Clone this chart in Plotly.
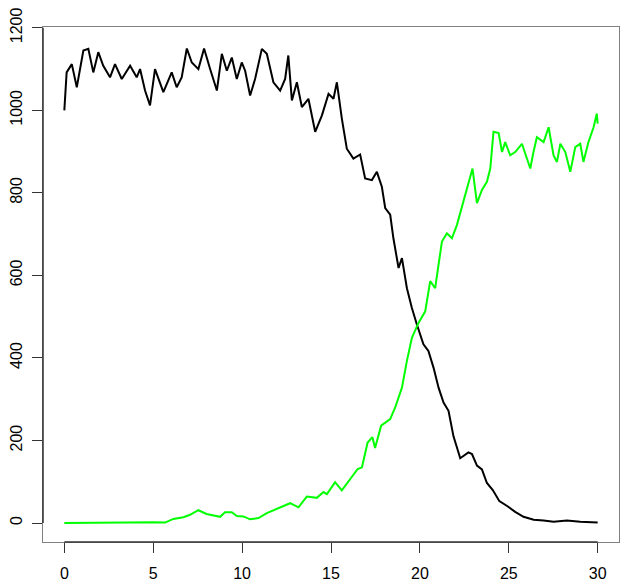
import plotly.graph_objects as go

# values
black_t = [0, 0.13, 0.42, 0.7, 1.07, 1.35, 1.63, 1.91, 2.19, 2.57, 2.85, 3.23, 3.7, 4.07, 4.26,
           4.54, 4.82, 5.1, 5.57, 6.04, 6.32, 6.6, 6.89, 7.17, 7.54, 7.86, 8.2, 8.58, 8.86, 9.14,
           9.42, 9.7, 9.98, 10.17, 10.45, 10.73, 11.11, 11.39, 11.76, 12.14, 12.42, 12.6, 12.8,
           13.08, 13.36, 13.73, 14.11, 14.49, 14.86, 15.14, 15.33, 15.61, 15.89, 16.26, 16.64,
           16.92, 17.3, 17.58, 17.86, 18.05, 18.33, 18.51, 18.8, 18.99, 19.27, 19.55, 19.83,
           20.2, 20.48, 20.77, 21.05, 21.33, 21.61, 21.89, 22.27, 22.73, 22.93, 23.21, 23.49,
           23.77, 24.1, 24.47, 24.95, 25.36, 25.83, 26.4, 26.96, 27.52, 28.27, 29.02, 30]
black_v = [1000, 1092, 1112, 1056, 1145, 1149, 1092, 1141, 1108, 1080, 1112, 1076, 1108, 1080, 1100,
           1048, 1012, 1100, 1044, 1092, 1056, 1080, 1150, 1116, 1100, 1150, 1100, 1048, 1137, 1096,
           1128, 1076, 1116, 1096, 1036, 1076, 1149, 1137, 1068, 1048, 1076, 1133, 1024,
           1068, 1008, 1028, 948, 988, 1040, 1028, 1068, 980, 907, 883, 893,
           835, 831, 851, 815, 763, 747, 690, 618, 642, 569, 521, 481,
           433, 417, 376, 328, 292, 272, 210, 157, 171, 167, 139, 130,
           97, 80, 53, 40, 27, 15, 8, 6, 3, 6, 3, 1]

green_t = [0, 3.4, 3.5, 5.0, 5.67, 6.13, 6.7, 7.07, 7.54, 8.0, 8.76, 9.04, 9.42, 9.7, 10.07,
           10.45, 10.92, 11.39, 11.86, 12.33, 12.7, 13.17, 13.64, 14.2, 14.58, 14.77, 15.23,
           15.61, 16.08, 16.5, 16.74, 17.06, 17.33, 17.48, 17.82, 18.33, 18.61, 18.99, 19.27,
           19.55, 19.92, 20.3, 20.58, 20.86, 21.05, 21.24, 21.52, 21.8, 22.08, 22.45, 22.73,
           22.96, 23.21, 23.49, 23.77, 23.96, 24.14, 24.43, 24.62, 24.8, 25.08, 25.36, 25.74,
           26.02, 26.21, 26.39, 26.58, 26.96, 27.24, 27.52, 27.71, 27.9, 28.18, 28.46, 28.74,
           29.02, 29.2, 29.48, 29.77, 29.95, 30]
green_v = [0, 0, 1, 2, 1, 10, 14, 20, 31, 22, 15, 26, 26, 17, 16,
           9, 12, 24, 32, 40, 48, 38, 64, 61, 75, 70, 99,
           79, 107, 131, 135, 195, 208, 182, 236, 252, 280, 328, 393,
           449, 485, 513, 586, 569, 626, 682, 702, 690, 722, 779, 819,
           859, 775, 807, 827, 859, 948, 945, 899, 923, 891, 899, 919,
           883, 859, 899, 935, 923, 959, 891, 875, 919, 899, 851, 911,
           919, 875, 923, 959, 992, 968]

x_ticks = [0, 5, 10, 15, 20, 25, 30]
y_ticks = [0, 200, 400, 600, 800, 1000, 1200]

fig = go.Figure([
    go.Scatter(x=black_t, y=black_v, mode='lines', line=dict(color='black', width=2), showlegend=False),
    go.Scatter(x=green_t, y=green_v, mode='lines', line=dict(color='#00ff00', width=2), showlegend=False),
])

# the page body adds an 8px margin, so the figure is 8px smaller than the window
fnt = dict(family='Liberation Sans, Arial, sans-serif', size=16, color='black')
fig.update_layout(
    width=621, height=577,
    margin=dict(l=35, r=10, t=19, b=43, pad=0),
    plot_bgcolor='white', paper_bgcolor='white',
    font=fnt,
)
fig.update_xaxes(range=[-1.2, 31.2], tickvals=x_ticks, ticks='outside', ticklen=10, tickcolor='#333',
                 showgrid=False, zeroline=False, showline=True, linecolor='#808080', mirror=True,
                 ticklabelstandoff=7, automargin=False)
fig.update_yaxes(range=[-46, 1202], tickvals=y_ticks, ticks='outside', ticklen=10, tickcolor='#333',
                 showgrid=False, zeroline=False, showline=True, linecolor='#808080', mirror=True,
                 tickangle=-90, ticklabelstandoff=4, automargin=False, ticklabeloverflow='allow')

# R-style axis lines that only span the tick range
fig.add_shape(type='line', xref='x', yref='paper', x0=0, x1=30, y0=0, y1=0, line=dict(color='#333', width=1.5))
fig.add_shape(type='line', xref='paper', yref='y', x0=0, x1=0, y0=0, y1=1200, line=dict(color='#333', width=1.5))

fig.write_html("out.html")
